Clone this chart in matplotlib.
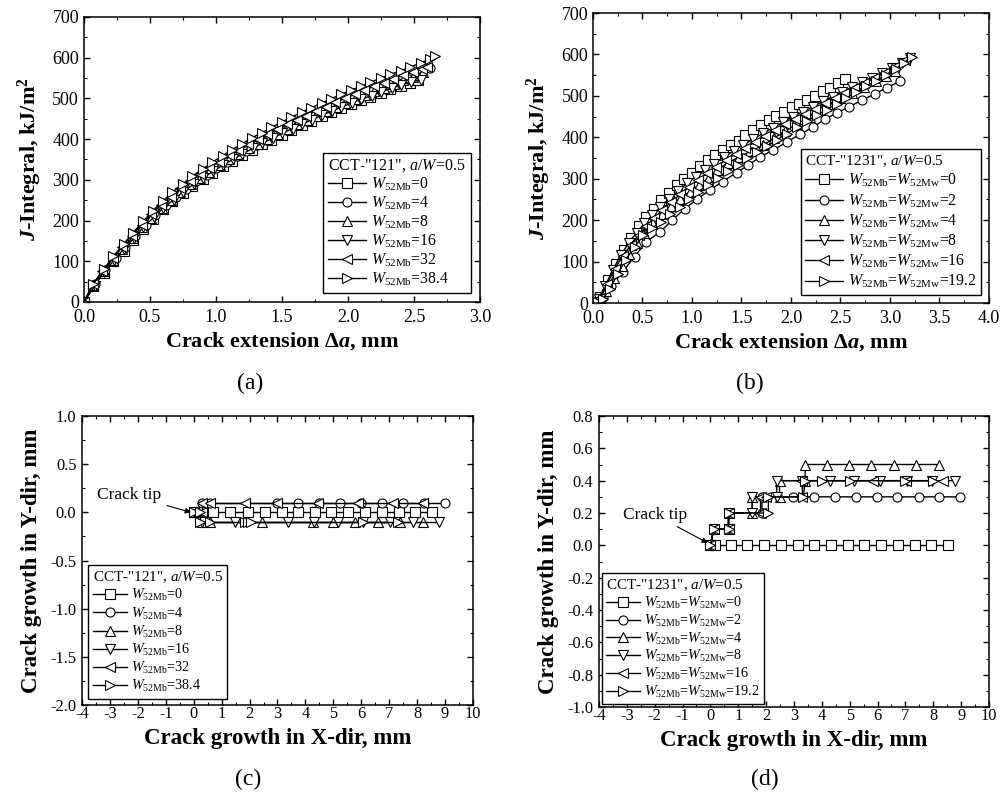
import matplotlib
matplotlib.use('Agg')
import matplotlib.pyplot as plt
from matplotlib.ticker import MultipleLocator, FormatStrFormatter

plt.rcParams['font.family'] = ['Liberation Serif', 'DejaVu Serif']
plt.rcParams['mathtext.fontset'] = 'custom'
plt.rcParams['mathtext.rm'] = 'Liberation Serif'
plt.rcParams['mathtext.it'] = 'Liberation Serif:italic'
plt.rcParams['mathtext.bf'] = 'Liberation Serif:bold'
plt.rcParams['mathtext.bfit'] = 'Liberation Serif:bold:italic'
plt.rcParams['axes.unicode_minus'] = False

MARKERS = ['s', 'o', '^', 'v', '<', '>']

# ---- (a) CCT-"121": J-integral vs crack extension
a_labels = ['0', '4', '8', '16', '32', '38.4']
a_x = [
    [0, 0.07, 0.15, 0.22, 0.30, 0.37, 0.45, 0.52, 0.60, 0.67, 0.75, 0.82, 0.90, 0.97, 1.05, 1.12, 1.20, 1.27,
     1.35, 1.42, 1.50, 1.57, 1.65, 1.72, 1.80, 1.87, 1.95, 2.02, 2.10, 2.17, 2.25, 2.32, 2.40, 2.47, 2.53],
    [0, 0.08, 0.16, 0.24, 0.31, 0.39, 0.47, 0.54, 0.62, 0.70, 0.77, 0.85, 0.93, 1.00, 1.08, 1.16, 1.23, 1.31,
     1.39, 1.46, 1.54, 1.62, 1.69, 1.77, 1.85, 1.92, 2.00, 2.08, 2.15, 2.23, 2.31, 2.38, 2.46, 2.54, 2.62],
    [0, 0.07, 0.15, 0.22, 0.29, 0.37, 0.44, 0.51, 0.59, 0.66, 0.73, 0.81, 0.88, 0.95, 1.03, 1.10, 1.17, 1.25,
     1.32, 1.39, 1.47, 1.54, 1.61, 1.69, 1.76, 1.83, 1.91, 1.98, 2.05, 2.13, 2.20, 2.27, 2.35, 2.42, 2.49, 2.57],
    [0, 0.08, 0.15, 0.23, 0.30, 0.38, 0.45, 0.53, 0.60, 0.68, 0.75, 0.83, 0.90, 0.98, 1.05, 1.13, 1.20, 1.28,
     1.35, 1.43, 1.50, 1.58, 1.65, 1.73, 1.80, 1.88, 1.95, 2.03, 2.10, 2.18, 2.25, 2.33, 2.40, 2.48, 2.55],
    [0, 0.07, 0.14, 0.22, 0.29, 0.36, 0.44, 0.51, 0.58, 0.66, 0.73, 0.80, 0.88, 0.95, 1.02, 1.10, 1.17, 1.24,
     1.32, 1.39, 1.46, 1.54, 1.61, 1.68, 1.76, 1.83, 1.90, 1.98, 2.05, 2.12, 2.20, 2.27, 2.34, 2.42, 2.49, 2.56, 2.60],
    [0, 0.07, 0.15, 0.22, 0.30, 0.37, 0.45, 0.52, 0.60, 0.67, 0.75, 0.82, 0.90, 0.97, 1.05, 1.12, 1.20, 1.27,
     1.35, 1.42, 1.50, 1.57, 1.65, 1.72, 1.80, 1.87, 1.95, 2.02, 2.10, 2.17, 2.25, 2.32, 2.40, 2.47, 2.55, 2.62, 2.66],
]
a_j = [
    [0, 40, 72, 100, 126, 152, 180, 205, 228, 248, 268, 285, 302, 318, 333, 347, 361, 374,
     387, 399, 411, 423, 434, 445, 456, 466, 476, 486, 495, 504, 513, 522, 530, 538, 545],
    [0, 44, 78, 108, 136, 163, 190, 214, 238, 259, 278, 296, 313, 328, 344, 358, 372, 385,
     398, 410, 422, 434, 445, 456, 467, 477, 488, 499, 509, 519, 529, 539, 548, 562, 574],
    [0, 42, 76, 104, 131, 158, 184, 207, 231, 251, 270, 289, 305, 320, 336, 350, 363, 377,
     389, 401, 413, 425, 436, 447, 458, 468, 479, 489, 498, 508, 517, 526, 536, 545, 553, 566],
    [0, 38, 74, 103, 130, 157, 184, 208, 231, 251, 271, 289, 305, 321, 336, 350, 364, 377,
     390, 402, 414, 426, 437, 448, 459, 469, 479, 489, 498, 507, 516, 525, 533, 540, 546],
    [0, 43, 77, 108, 136, 163, 190, 215, 238, 259, 279, 297, 314, 330, 345, 360, 374, 387,
     400, 412, 424, 436, 447, 458, 469, 480, 490, 500, 510, 520, 530, 539, 548, 557, 565, 572, 576],
    [0, 45, 80, 112, 142, 170, 198, 224, 248, 270, 290, 309, 327, 343, 359, 374, 389, 403,
     416, 429, 442, 454, 466, 477, 488, 499, 510, 520, 530, 540, 550, 559, 568, 577, 587, 597, 604],
]

# ---- (b) CCT-"1231": J-integral vs crack extension
b_labels = ['0', '2', '4', '8', '16', '19.2']
b_x = [
    [0, 0.07, 0.15, 0.23, 0.31, 0.38, 0.46, 0.54, 0.62, 0.69, 0.77, 0.85, 0.92, 1.00, 1.08, 1.16, 1.23,
     1.31, 1.39, 1.47, 1.54, 1.62, 1.70, 1.78, 1.85, 1.93, 2.01, 2.08, 2.16, 2.24, 2.32, 2.39, 2.47, 2.55],
    [0, 0.05, 0.10, 0.18, 0.30, 0.42, 0.54, 0.68, 0.80, 0.93, 1.05, 1.18, 1.31, 1.45, 1.57, 1.69, 1.82,
     1.96, 2.09, 2.22, 2.34, 2.46, 2.59, 2.72, 2.85, 2.97, 3.10],
    [0, 0.06, 0.13, 0.21, 0.29, 0.36, 0.44, 0.52, 0.60, 0.70, 0.79, 0.88, 0.98, 1.07, 1.16, 1.25, 1.36,
     1.47, 1.59, 1.72, 1.83, 1.94, 2.06, 2.19, 2.29, 2.38, 2.50, 2.62, 2.74, 2.86, 2.96, 3.05],
    [0, 0.06, 0.12, 0.20, 0.28, 0.36, 0.44, 0.52, 0.60, 0.68, 0.77, 0.86, 0.95, 1.04, 1.13, 1.22, 1.32,
     1.42, 1.52, 1.62, 1.72, 1.82, 1.92, 2.02, 2.12, 2.22, 2.32, 2.42, 2.52, 2.62, 2.72, 2.82, 2.92,
     3.02, 3.12, 3.20],
    [0, 0.07, 0.14, 0.22, 0.30, 0.38, 0.46, 0.54, 0.62, 0.70, 0.79, 0.88, 0.97, 1.06, 1.15, 1.24, 1.34,
     1.44, 1.54, 1.64, 1.74, 1.84, 1.94, 2.04, 2.14, 2.24, 2.34, 2.44, 2.54, 2.64, 2.74, 2.84, 2.94,
     3.04, 3.15],
    [0, 0.05, 0.10, 0.17, 0.25, 0.33, 0.42, 0.51, 0.60, 0.69, 0.78, 0.88, 0.97, 1.06, 1.16, 1.26, 1.36,
     1.46, 1.56, 1.66, 1.76, 1.86, 1.96, 2.06, 2.16, 2.26, 2.36, 2.46, 2.56, 2.66, 2.76, 2.86, 2.96,
     3.06, 3.14, 3.22],
]
b_j = [
    [0, 15, 55, 95, 128, 156, 185, 208, 228, 248, 266, 284, 300, 315, 330, 344, 357,
     370, 382, 392, 405, 418, 430, 441, 452, 462, 472, 481, 490, 500, 512, 520, 530, 540],
    [0, 5, 15, 40, 75, 112, 148, 172, 200, 228, 250, 273, 293, 315, 333, 353, 369,
     389, 407, 424, 443, 458, 474, 490, 505, 520, 535],
    [0, 8, 30, 60, 90, 118, 145, 170, 195, 216, 235, 252, 269, 285, 300, 321, 338,
     352, 366, 381, 398, 415, 432, 450, 466, 480, 494, 508, 522, 535, 548, 560],
    [0, 10, 40, 80, 115, 145, 170, 192, 212, 232, 252, 270, 289, 305, 321, 336, 352,
     367, 382, 396, 410, 423, 437, 450, 462, 474, 487, 498, 510, 521, 533, 544, 556,
     567, 580, 592],
    [0, 12, 45, 83, 113, 140, 164, 185, 205, 225, 244, 262, 280, 297, 313, 329, 345,
     360, 375, 389, 403, 417, 431, 444, 457, 469, 482, 494, 506, 518, 530, 543, 556,
     570, 587],
    [0, 3, 10, 35, 70, 105, 135, 164, 182, 196, 214, 232, 250, 268, 285, 302, 318,
     334, 349, 364, 379, 394, 409, 424, 439, 453, 467, 481, 495, 509, 523, 537, 551,
     566, 580, 595],
]

# ---- (c) CCT-"121": crack path
c_x = [
    [0, 0.2, 0.70, 1.30, 1.95, 2.55, 3.15, 3.74, 4.34, 4.93, 5.53, 6.13, 6.75, 7.34, 7.94, 8.53],
    [0, 0.3, 0.3, 0.6, 2.97, 3.72, 4.47, 5.23, 5.98, 6.73, 7.48, 8.23, 8.99],
    [0, 0.3, 0.3, 0.6, 2.43, 4.28, 5.00, 5.77, 6.60, 7.38, 8.20],
    [0, 0.3, 0.3, 1.48, 3.38, 4.30, 5.17, 6.07, 7.02, 7.85, 8.78],
    [0, 0.3, 0.3, 0.6, 1.84, 2.97, 4.46, 5.90, 7.14, 8.20],
    [0, 0.22, 0.22, 0.58, 1.85, 1.95, 2.05, 6.07, 7.30],
]
c_y = [
    [0, 0, 0, 0, 0, 0, 0, 0, 0, 0, 0, 0, 0, 0, 0, 0],
    [0, 0, 0.1, 0.1, 0.1, 0.1, 0.1, 0.1, 0.1, 0.1, 0.1, 0.1, 0.1],
    [0, 0, -0.1, -0.1, -0.1, -0.1, -0.1, -0.1, -0.1, -0.1, -0.1],
    [0, 0, -0.1, -0.1, -0.1, -0.1, -0.1, -0.1, -0.1, -0.1, -0.1],
    [0, 0, 0.1, 0.1, 0.1, 0.1, 0.1, 0.1, 0.1, 0.1],
    [0, 0, -0.1, -0.1, -0.1, -0.1, -0.1, -0.1, -0.1],
]

# ---- (d) CCT-"1231": crack path
d_x = [
    [0, 0.15, 0.73, 1.33, 1.93, 2.53, 3.13, 3.73, 4.33, 4.93, 5.53, 6.13, 6.73, 7.33, 7.93, 8.54],
    [0, 0.12, 0.65, 0.65, 1.85, 1.85, 2.98, 3.72, 4.47, 5.23, 5.97, 6.71, 7.47, 8.21, 8.96],
    [0, 0.12, 0.65, 0.65, 1.50, 1.50, 2.48, 2.48, 3.40, 3.40, 4.18, 4.99, 5.77, 6.59, 7.38, 8.22],
    [0, 0.12, 0.65, 0.65, 1.50, 1.50, 2.38, 2.38, 3.30, 4.30, 5.16, 6.07, 7.05, 7.95, 8.78],
    [0, 0.12, 0.65, 0.65, 1.80, 1.80, 2.00, 3.30, 3.30, 5.85, 7.02, 8.36],
    [0, 0.12, 0.65, 0.65, 2.08, 2.08, 3.34, 3.40, 4.00, 5.01, 6.99, 8.00],
]
d_y = [
    [0, 0, 0, 0, 0, 0, 0, 0, 0, 0, 0, 0, 0, 0, 0, 0],
    [0, 0.1, 0.1, 0.2, 0.2, 0.3, 0.3, 0.3, 0.3, 0.3, 0.3, 0.3, 0.3, 0.3, 0.3],
    [0, 0.1, 0.1, 0.2, 0.2, 0.3, 0.3, 0.4, 0.4, 0.5, 0.5, 0.5, 0.5, 0.5, 0.5, 0.5],
    [0, 0.1, 0.1, 0.2, 0.2, 0.3, 0.3, 0.4, 0.4, 0.4, 0.4, 0.4, 0.4, 0.4, 0.4],
    [0, 0.1, 0.1, 0.2, 0.2, 0.3, 0.3, 0.3, 0.4, 0.4, 0.4, 0.4],
    [0, 0.1, 0.1, 0.2, 0.2, 0.3, 0.3, 0.4, 0.4, 0.4, 0.4, 0.4],
]

LABEL_FS = 16


def style_axes(ax, xlim, ylim, xmaj, xmin, ymaj, ymin, xfmt, yfmt, tfs, xpad, ypad):
    ax.set_xlim(*xlim)
    ax.set_ylim(*ylim)
    ax.xaxis.set_major_locator(MultipleLocator(xmaj))
    ax.xaxis.set_minor_locator(MultipleLocator(xmin))
    ax.yaxis.set_major_locator(MultipleLocator(ymaj))
    ax.yaxis.set_minor_locator(MultipleLocator(ymin))
    ax.xaxis.set_major_formatter(FormatStrFormatter(xfmt))
    ax.yaxis.set_major_formatter(FormatStrFormatter(yfmt))
    ax.tick_params(which='both', direction='in', top=True, right=True, labelsize=tfs)
    ax.tick_params(axis='x', pad=xpad)
    ax.tick_params(axis='y', pad=ypad)
    ax.tick_params(which='major', length=4.5, width=1)
    ax.tick_params(which='minor', length=2.5, width=0.8)
    for s in ax.spines.values():
        s.set_linewidth(1.1)


def draw(ax, xs, ys, labels):
    for k in range(len(xs)):
        ax.plot(xs[k], ys[k], color='black', lw=1.0, marker=MARKERS[k], ms=6.5,
                mfc='white', mec='black', mew=0.8, label=labels[k])


def add_legend(ax, title, loc, pad, fs, tfs, spacing):
    leg = ax.legend(title=title, loc=loc, fontsize=fs, title_fontsize=tfs, fancybox=False,
                    edgecolor='black', framealpha=1, borderaxespad=pad, handlelength=2.4,
                    handletextpad=0.3, labelspacing=spacing, borderpad=0.3, alignment='left')
    leg.get_frame().set_linewidth(1.0)


fig = plt.figure(figsize=(10.01, 7.98), dpi=100)
ax_a = fig.add_axes([0.0839, 0.6216, 0.3956, 0.3571])
ax_b = fig.add_axes([0.5924, 0.6203, 0.3956, 0.3634])
ax_c = fig.add_axes([0.0819, 0.1165, 0.3906, 0.3622])
ax_d = fig.add_axes([0.5984, 0.1140, 0.3896, 0.3647])

# (a)
draw(ax_a, a_x, a_j, [r'$W_{\rm 52Mb}$=' + s for s in a_labels])
style_axes(ax_a, (0, 3), (0, 700), 0.5, 0.25, 100, 50, '%.1f', '%d', 13, 5, 3.5)
add_legend(ax_a, r'CCT-"121", $a/W$=0.5', 'lower right', 0.6, 11.3, 11.5, 0.1)
ax_a.set_xlabel(r'Crack extension $\mathbf{\Delta}\mathbfit{a}$, mm', fontsize=LABEL_FS,
                fontweight='bold', labelpad=3)
ax_a.set_ylabel(r'$\mathbfit{J}$-Integral, kJ/m$^{\mathbf{2}}$', fontsize=LABEL_FS,
                fontweight='bold', labelpad=6)

# (b)
draw(ax_b, b_x, b_j, [r'$W_{\rm 52Mb}$=$W_{\rm 52Mw}$=' + s for s in b_labels])
style_axes(ax_b, (0, 4), (0, 700), 0.5, 0.25, 100, 50, '%.1f', '%d', 13, 5, 3.5)
add_legend(ax_b, r'CCT-"1231", $a/W$=0.5', 'lower right', 0.5, 11.3, 11, 0.18)
ax_b.set_xlabel(r'Crack extension $\mathbf{\Delta}\mathbfit{a}$, mm', fontsize=LABEL_FS,
                fontweight='bold', labelpad=3)
ax_b.set_ylabel(r'$\mathbfit{J}$-Integral, kJ/m$^{\mathbf{2}}$', fontsize=LABEL_FS,
                fontweight='bold', labelpad=6)

# (c)
draw(ax_c, c_x, c_y, [r'$W_{\rm 52Mb}$=' + s for s in a_labels])
style_axes(ax_c, (-4, 10), (-2, 1), 1, 0.5, 0.5, 0.25, '%d', '%.1f', 11.8, 1, 4)
add_legend(ax_c, r'CCT-"121", $a/W$=0.5', 'lower left', 0.45, 10.2, 10.9, 0.15)
ax_c.annotate('Crack tip', xy=(-0.1, 0.0), xytext=(-2.3, 0.18), fontsize=12.5,
              ha='center', va='center',
              arrowprops=dict(arrowstyle='-|>', color='black', lw=0.8, mutation_scale=8,
                              shrinkA=2, shrinkB=0))
ax_c.set_xlabel('Crack growth in X-dir, mm', fontsize=16.5, fontweight='bold', labelpad=4)
ax_c.set_ylabel('Crack growth in Y-dir, mm', fontsize=16.5, fontweight='bold', labelpad=6)

# (d)
draw(ax_d, d_x, d_y, [r'$W_{\rm 52Mb}$=$W_{\rm 52Mw}$=' + s for s in b_labels])
style_axes(ax_d, (-4, 10), (-1, 0.8), 1, 0.5, 0.2, 0.1, '%d', '%.1f', 11.8, 1, 4)
add_legend(ax_d, r'CCT-"1231", $a/W$=0.5', 'lower left', 0.2, 10.2, 10.9, 0.12)
ax_d.annotate('Crack tip', xy=(-0.1, 0.015), xytext=(-2.0, 0.19), fontsize=12.5,
              ha='center', va='center',
              arrowprops=dict(arrowstyle='-|>', color='black', lw=0.8, mutation_scale=8,
                              shrinkA=2, shrinkB=0))
ax_d.set_xlabel('Crack growth in X-dir, mm', fontsize=16.5, fontweight='bold', labelpad=4)
ax_d.set_ylabel('Crack growth in Y-dir, mm', fontsize=16.5, fontweight='bold', labelpad=6)

for txt, xx, yy in [('(a)', 0.2498, 0.519), ('(b)', 0.749, 0.519),
                    ('(c)', 0.2478, 0.0238), ('(d)', 0.764, 0.0238)]:
    fig.text(xx, yy, txt, fontsize=17, ha='center', va='center')

# the "0" on the J axis sits just above the corner, as in the original
fig.canvas.draw()
for ax in (ax_a, ax_b):
    ax.get_yticklabels()[0].set_verticalalignment('baseline')

fig.savefig('out.png', dpi=100)
